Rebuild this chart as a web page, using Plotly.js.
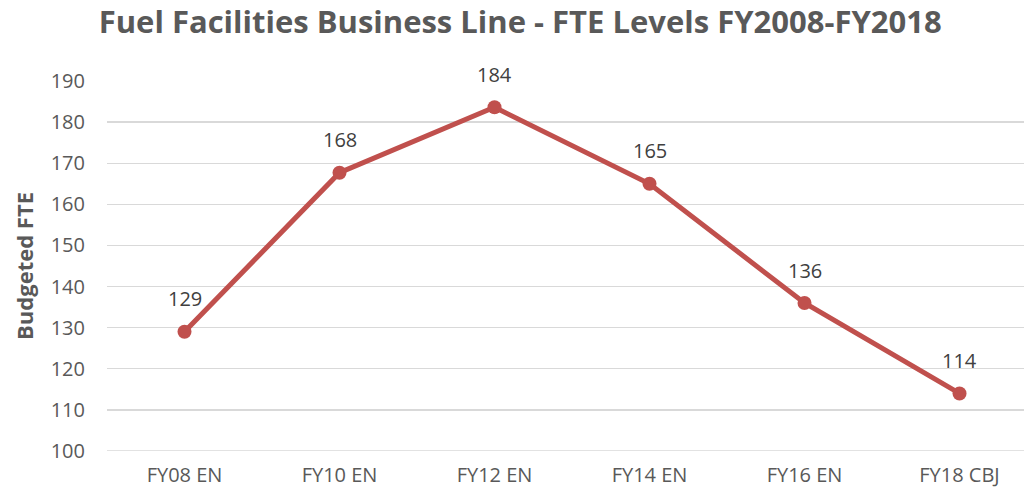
<!DOCTYPE html>
<html><head><meta charset="utf-8">
<script src="https://cdn.plot.ly/plotly-3.0.1.min.js"></script>
<style>html,body{margin:0;padding:0;background:#fff}#chart{width:1024px;height:491px}</style>
</head><body><div id="chart"></div>
<script>
const categories = ["FY08 EN", "FY10 EN", "FY12 EN", "FY14 EN", "FY16 EN", "FY18 CBJ"];
const fteValues = [129, 167.7, 183.6, 165, 136, 114];
const yTicks = [100, 110, 120, 130, 140, 150, 160, 170, 180, 190];

const font = "Open Sans, Liberation Sans, sans-serif";
const trace = {
  x: categories, y: fteValues, type: "scatter", mode: "lines+markers",
  line: {color: "#C0504D", width: 5},
  marker: {color: "#C0504D", size: 14},
  cliponaxis: false, hoverinfo: "none"
};
const annotations = categories.map((c, i) => ({
  x: c, y: fteValues[i], xref: "x", yref: "y",
  text: Math.round(fteValues[i]).toString(), showarrow: false,
  yshift: 33, xanchor: "center", yanchor: "middle",
  font: {family: font, size: 20, color: "#404040"}
}));
const layout = {
  width: 1024, height: 491,
  margin: {l: 107, r: 0, t: 81, b: 40},
  paper_bgcolor: "#fff", plot_bgcolor: "#fff",
  title: {text: "<b>Fuel Facilities Business Line - FTE Levels FY2008-FY2018</b>",
    font: {family: font, size: 31, color: "#595959"}, x: 0.508, xanchor: "center", y: 0.955, yanchor: "middle"},
  xaxis: {type: "category", range: [-0.5, 5.416], showgrid: false, zeroline: false, showline: false,
    ticks: "outside", ticklen: 6, tickcolor: "rgba(0,0,0,0)", tickfont: {family: font, size: 20, color: "#595959"}},
  yaxis: {range: [100, 190], tickvals: yTicks, showgrid: true, gridcolor: "#D9D9D9", gridwidth: 1.3,
    zeroline: false, showline: false, ticks: "outside", ticklen: 17, tickcolor: "rgba(0,0,0,0)",
    tickfont: {family: font, size: 20, color: "#595959"},
    title: {text: "<b>Budgeted FTE</b>", font: {family: font, size: 22, color: "#595959"}, standoff: 10}},
  shapes: [{type: "line", xref: "paper", yref: "y", x0: 0, x1: 1, y0: 100, y1: 100,
    line: {color: "#D9D9D9", width: 1.3}, layer: "below"}],
  annotations: annotations,
  showlegend: false
};
Plotly.newPlot("chart", [trace], layout, {displayModeBar: false, staticPlot: true});
</script></body></html>
